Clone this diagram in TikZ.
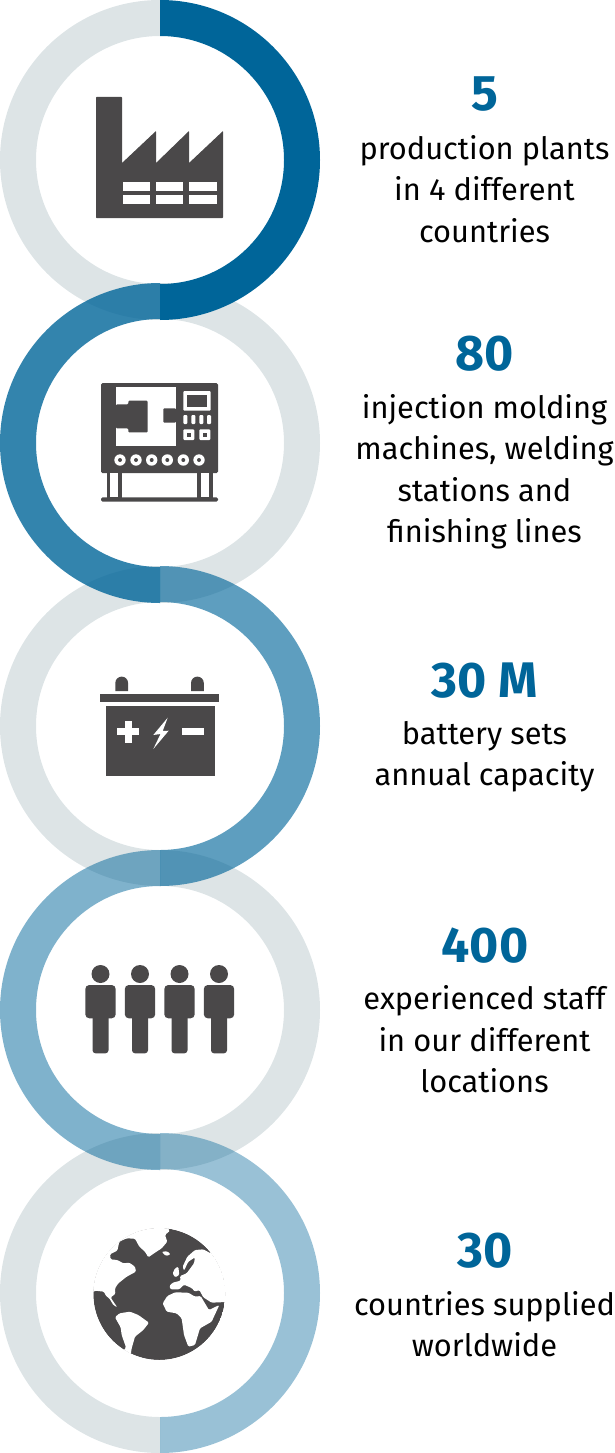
\documentclass[tikz,border=0pt]{standalone}
\usepackage{fontspec}
\setmainfont{Fira Sans}
\definecolor{ringblue}{HTML}{006599}
\definecolor{ringgray}{HTML}{DDE4E6}
\definecolor{icon}{HTML}{4A4849}
\newcommand{\halfright}[1]{(160,#1-160) arc[start angle=-90,end angle=90,radius=160] -- (160,#1+124) arc[start angle=90,end angle=-90,radius=124] -- cycle}
\newcommand{\halfleft}[1]{(160,#1-160) arc[start angle=270,end angle=90,radius=160] -- (160,#1+124) arc[start angle=90,end angle=270,radius=124] -- cycle}
\tikzset{
  bignum/.style={anchor=base,font=\fontsize{50}{50}\selectfont\bfseries,text=ringblue,inner sep=0pt},
  caption/.style={anchor=base,font=\fontsize{30.8}{31}\selectfont,text=black,inner sep=0pt},
  ink/.style={fill=icon,draw=none},
  paper/.style={fill=white,draw=none}
}
\begin{document}
\begin{tikzpicture}[x=1pt,y=-1pt]
\useasboundingbox (0,0) rectangle (615,1453);
% rings: grey halves, then blue halves
\fill[ringgray] \halfleft{160};
\fill[ringgray] \halfright{443};
\fill[ringgray] \halfleft{726};
\fill[ringgray] \halfright{1010};
\fill[ringgray] \halfleft{1293};
\fill[ringblue] \halfright{160};
\fill[ringblue,opacity=.8] \halfleft{443};
\fill[ringblue,opacity=.63] \halfright{726};
\fill[ringblue,opacity=.5] \halfleft{1010};
\fill[ringblue,opacity=.4] \halfright{1293};
% factory
\fill[ink,rounded corners=.6pt] (96,97) -- (122,97) -- (122,163) -- (156,131) -- (156,163) -- (189,131) -- (189,163) -- (223,131) -- (223,218) -- (96,218) -- cycle;
\foreach \a/\b in {123/150,156/183,189/217}{
  \fill[paper] (\a,182) rectangle (\b,191);
  \fill[paper] (\a,195) rectangle (\b,204);
}
% machine
\fill[ink,rounded corners=1.5pt] (101,383) rectangle (218,473);
\fill[ink,rounded corners=1.5pt] (101,497.3) rectangle (218,501.7);
\fill[ink] (106.7,473) rectangle (122.3,498);
\fill[ink] (197.3,473) rectangle (212.7,498);
\fill[paper] (110,473) rectangle (118.3,497.3);
\fill[paper] (200.7,473) rectangle (209,497.3);
\fill[paper] (116,387) rectangle (176,446);
\fill[ink,rounded corners=1pt] (116,404.3) -- (128.3,404.3) -- (128.3,400.7) -- (147.7,400.7) -- (147.7,432.3) -- (128.3,432.3) -- (128.3,428.3) -- (116,428.3) -- cycle;
\fill[ink,rounded corners=1pt] (176,408.3) -- (163.3,408.3) -- (163.3,422.7) -- (176,422.7) -- cycle;
\fill[paper,rounded corners=1pt] (183.3,391) rectangle (210.7,410.7);
\fill[ink] (187.3,395) rectangle (207,406.7);
\foreach \a in {183.3,191.3,199.3,207}{
  \fill[paper,rounded corners=1pt] (\a,415) rectangle (\a+4,424);
}
\foreach \a in {183.3,199.3}{
  \fill[paper,rounded corners=1pt] (\a,429.3) rectangle (\a+11,440);
  \fill[ink] (\a+3.5,433) rectangle (\a+7.5,436.5);
}
\foreach \a in {120,136,151.7,167.3,183.3,199}{
  \fill[paper] (\a,460) circle[radius=5.7];
  \fill[ink] (\a,460) circle[radius=2];
}
% battery
\foreach \a in {115.3,191}{
  \fill[ink] (\a,691) -- (\a,683) arc[start angle=180,end angle=360,radius=6.4] -- (\a+12.8,691) -- cycle;
}
\fill[ink] (100.3,694) rectangle (218.7,702.3);
\fill[ink] (106,706) rectangle (214.7,776);
\fill[paper] (117,728.3) rectangle (139,735.3);
\fill[paper] (124.5,720.5) rectangle (131.5,742.8);
\fill[paper] (182,728.3) rectangle (204,735.3);
\fill[paper] (167.7,717.7) -- (153.3,735) -- (160.5,734) -- (153.3,749) -- (168.7,730.7) -- (162.7,731) -- cycle;
% people
\foreach \a in {100.5,140,179.5,219}{
  \fill[ink] (\a,974) circle[radius=9];
  \fill[ink,rounded corners=4pt] (\a-15.2,985) rectangle (\a+15.2,1018.3);
  \fill[ink,rounded corners=3pt] (\a-8,1010) rectangle (\a+8,1053.3);
}
% globe
\begin{scope}
\clip (159.3,1294) circle[radius=66];
\fill[ink] (159.3,1294) circle[radius=66];
\begin{scope}[shift={(80,1220)},x=.3333pt,y=-.3333pt,rounded corners=1.2pt]
% north america and arctic
\fill[paper] (20,230) -- (45,212) -- (72,215) -- (78,228) -- (88,235) -- (100,255) -- (112,262) -- (100,245) -- (92,232) -- (106,222) -- (105,205) -- (115,190) -- (140,170) -- (168,155) -- (165,140) -- (148,128) -- (130,130) -- (112,120) -- (92,118) -- (90,103) -- (112,92) -- (118,65) -- (140,55) -- (165,56) -- (178,80) -- (195,95) -- (205,112) -- (222,100) -- (245,85) -- (262,65) -- (255,45) -- (270,32) -- (240,0) -- (20,0) -- cycle;
% island
\fill[paper] (245,95) -- (262,94) -- (272,103) -- (258,108) -- cycle;
% south america
\fill[paper] (105,292) -- (118,280) -- (150,275) -- (175,285) -- (207,308) -- (190,330) -- (165,350) -- (155,385) -- (150,420) -- (110,420) -- (138,382) -- (125,345) -- (122,322) -- cycle;
% africa
\fill[paper] (248,250) -- (262,228) -- (285,217) -- (325,218) -- (345,230) -- (362,228) -- (372,245) -- (387,270) -- (418,255) -- (395,305) -- (360,325) -- (345,375) -- (325,380) -- (312,345) -- (305,295) -- (290,280) -- (260,275) -- cycle;
% arabia and east
\fill[paper] (370,232) -- (395,248) -- (460,245) -- (460,60) -- (392,100) -- (370,88) -- (345,90) -- (322,110) -- (308,140) -- (312,152) -- (325,125) -- (345,112) -- (342,130) -- (320,160) -- (300,168) -- (302,182) -- (278,188) -- (268,198) -- (272,208) -- (298,208) -- (312,194) -- (335,204) -- (345,215) -- (358,210) -- cycle;
% britain
\fill[paper] (278,160) -- (285,145) -- (295,140) -- (298,165) -- (285,172) -- cycle;
\end{scope}
\end{scope}
\draw[white,line width=1.6pt] (159.3,1294) circle[radius=66.8];
% texts
\node[bignum] (n1) at (485,111) {5};
\node[caption] (t1a) at (484.5,159) {production plants};
\node[caption] (t1b) at (484.5,200) {in 4 different};
\node[caption] (t1c) at (484.5,242) {countries};
\node[bignum] (n2) at (485,370) {80};
\node[caption] (t2a) at (484.5,418) {injection molding};
\node[caption] (t2b) at (484.5,459.5) {machines, welding};
\node[caption] (t2c) at (484.5,501) {stations and};
\node[caption] (t2d) at (484.5,542) {finishing lines};
\node[bignum] (n3) at (485,697) {30 M};
\node[caption] (t3a) at (484.5,744) {battery sets};
\node[caption] (t3b) at (484.5,785) {annual capacity};
\node[bignum] (n4) at (485,962) {400};
\node[caption] (t4a) at (484.5,1009) {experienced staff};
\node[caption] (t4b) at (484.5,1051) {in our different};
\node[caption] (t4c) at (484.5,1092) {locations};
\node[bignum] (n5) at (485,1267) {30};
\node[caption] (t5a) at (484.5,1315) {countries supplied};
\node[caption] (t5b) at (484.5,1356) {worldwide};
\end{tikzpicture}
\end{document}
